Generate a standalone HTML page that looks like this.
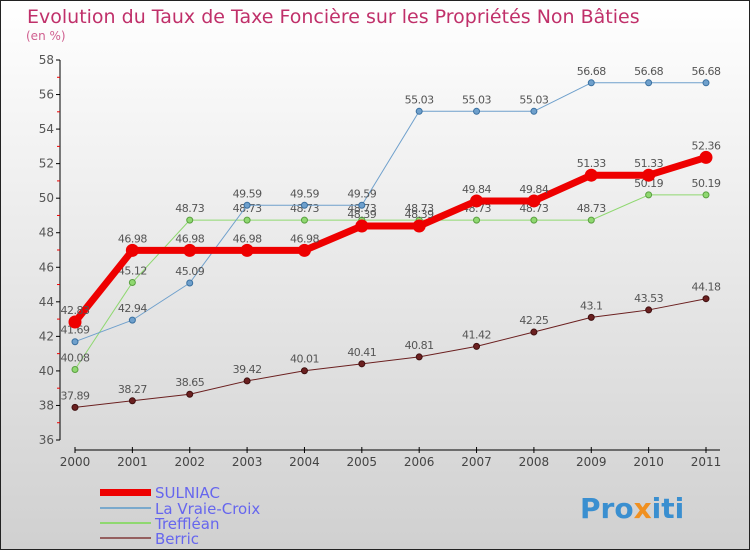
<!DOCTYPE html>
<html><head><meta charset="utf-8"><style>
body{margin:0}
svg{display:block;font-family:"DejaVu Sans","Liberation Sans",sans-serif}
</style></head><body>
<svg id="c" width="750" height="550">
<defs><linearGradient id="bg" x1="0" y1="0" x2="0" y2="1"><stop offset="0" stop-color="#ffffff"/><stop offset="1" stop-color="#d0d0d0"/></linearGradient></defs>
<rect x="0.5" y="0.5" width="749" height="549" fill="url(#bg)" stroke="#222"/>
<text x="27" y="23" font-size="19" fill="#c0306a">Evolution du Taux de Taxe Foncière sur les Propriétés Non Bâties</text>
<text x="26" y="40" font-size="12" fill="#d06090">(en %)</text>
<g id="axes"></g><g id="series"></g>
<g>
<rect x="100" y="489" width="51" height="7" fill="#e00"/>
<text x="155" y="498" font-size="15" fill="#6666ee">SULNIAC</text>
<rect x="100" y="507" width="51" height="2" fill="#7aa9cc"/>
<text x="155" y="514" font-size="15" fill="#6666ee">La Vraie-Croix</text>
<rect x="100" y="522" width="51" height="2" fill="#8fd870"/>
<text x="155" y="529" font-size="15" fill="#6666ee">Treffléan</text>
<rect x="100" y="537" width="51" height="2" fill="#956060"/>
<text x="155" y="544" font-size="15" fill="#6666ee">Berric</text>
</g>
<text x="580" y="518" font-size="28" font-weight="bold" fill="#3a8fd0">Pro<tspan fill="#f09020">x</tspan>iti</text>
</svg>
<script>
const years=["2000","2001","2002","2003","2004","2005","2006","2007","2008","2009","2010","2011"];
const sulniac=[42.83,46.98,46.98,46.98,46.98,48.39,48.39,49.84,49.84,51.33,51.33,52.36];
const vraie=[41.69,42.94,45.09,49.59,49.59,49.59,55.03,55.03,55.03,56.68,56.68,56.68];
const treff=[40.08,45.12,48.73,48.73,48.73,48.73,48.73,48.73,48.73,48.73,50.19,50.19];
const berric=[37.89,38.27,38.65,39.42,40.01,40.41,40.81,41.42,42.25,43.1,43.53,44.18];
const yTicks=[36,38,40,42,44,46,48,50,52,54,56,58];
const NS="http://www.w3.org/2000/svg";
const X=i=>75+i*(706-75)/11;
const Y=v=>440-(v-36)*(380/22);
function mk(tag,attrs,parent,txt){const e=document.createElementNS(NS,tag);for(const k in attrs)e.setAttribute(k,attrs[k]);if(txt!==undefined)e.textContent=txt;parent.appendChild(e);return e;}
const ax=document.getElementById('axes');
const yl=mk('line',{x1:60,y1:Y(58),x2:60,y2:440,stroke:'#000'},ax);


yTicks.forEach(t=>{
  mk('line',{x1:56,x2:60,y1:Y(t),y2:Y(t),stroke:'#000'},ax);
  if(t<58)mk('line',{x1:57,x2:60,y1:Y(t+1),y2:Y(t+1),stroke:'#e00'},ax);
  const tx=mk('text',{x:54,y:Y(t)+4,'font-size':12,fill:'#555','text-anchor':'end'},ax,t);
  
  
});
const xl=mk('line',{x1:X(0),y1:450,x2:720,y2:450,stroke:'#000'},ax);


years.forEach((y,i)=>{
  mk('line',{x1:X(i),x2:X(i),y1:447,y2:453,stroke:'#000'},ax);
  const tx=mk('text',{x:X(i),y:466,'font-size':12,fill:'#444','text-anchor':'middle'},ax,y);
  
  
});
const sg=document.getElementById('series');
function draw(vals,color,w,r,name,lc){
  const g=mk('g',{},sg);
  
  
  mk('polyline',{points:vals.map((v,i)=>X(i)+','+Y(v)).join(' '),fill:'none',stroke:color,'stroke-width':w,'stroke-linejoin':'round'},g);
  vals.forEach((v,i)=>{
    const c=mk('circle',{cx:X(i),cy:Y(v),r:r,fill:color,stroke:lc,'stroke-width':1},g);
    
    
    const t=mk('text',{x:X(i),y:Y(v)-8,'font-size':11,fill:'#555','text-anchor':'middle','letter-spacing':'-0.5'},g,v);
    
    
  });
}
draw(berric,'#6b2020',1,3,'berric','#401010');
draw(treff,'#8fd870',1,3,'treffléan','#5aa040');
draw(vraie,'#6fa0cc',1,3,'la-vraie-croix','#3a70a0');
draw(sulniac,'#ee0000',7,6,'sulniac','#ee0000');
</script>
</body></html>
